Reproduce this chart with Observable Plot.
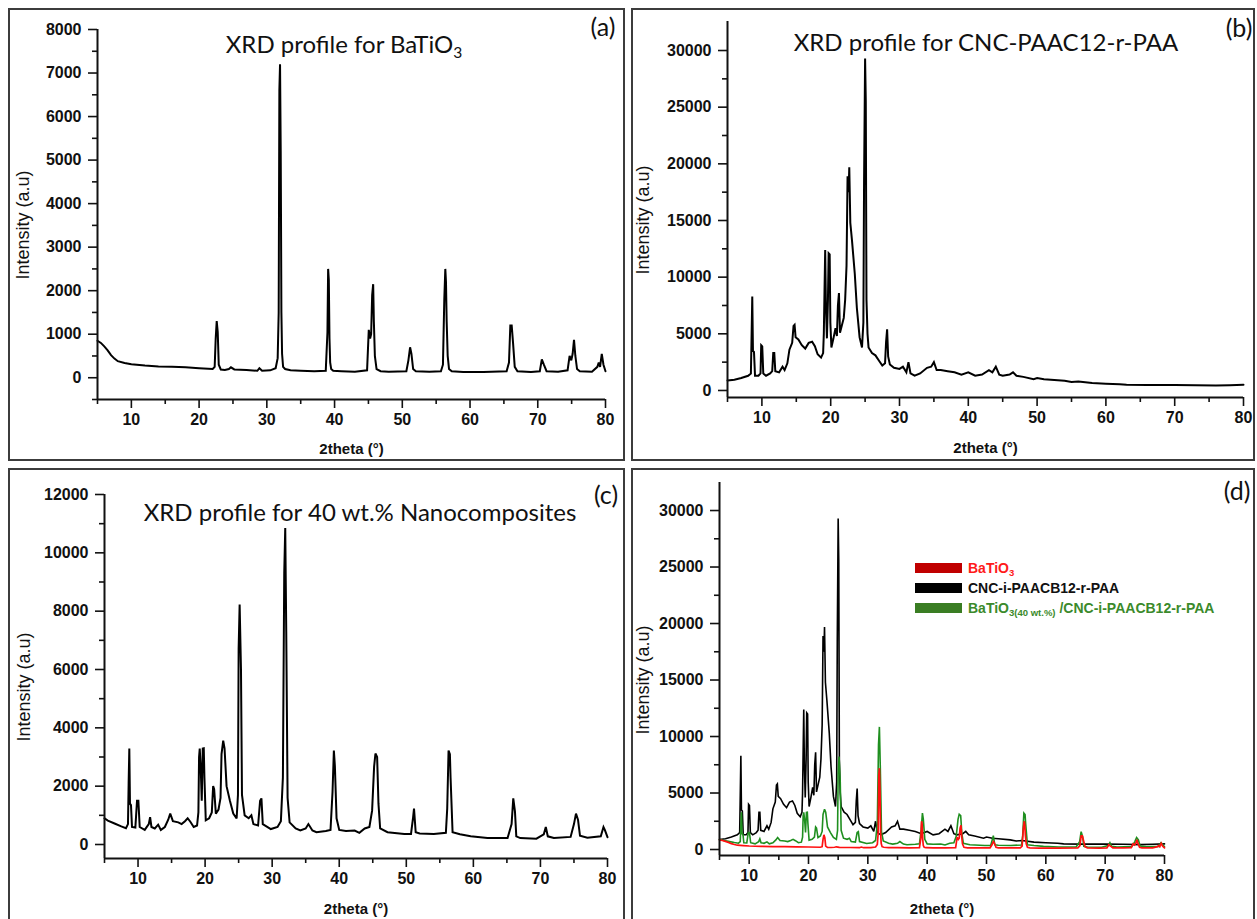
<!DOCTYPE html>
<html><head><meta charset="utf-8">
<script src="https://cdn.jsdelivr.net/npm/d3@7"></script>
<script src="https://cdn.jsdelivr.net/npm/@observablehq/plot@0.6"></script>
<style>
body{margin:0;background:#fff;}
#page{position:relative;width:1257px;height:919px;overflow:hidden;background:#fff;}
.box{position:absolute;border:2px solid #3c3c3c;box-sizing:border-box;}
.plot{position:absolute;}
.plot svg{overflow:visible;}
.title{position:absolute;font-family:Lato,"Open Sans",sans-serif;font-size:24px;color:#111;white-space:nowrap;transform:translate(-50%,-50%);line-height:1;}
.title sub{font-size:0.65em;vertical-align:-0.3em;line-height:0;}
.tag{position:absolute;font-family:Lato,"Open Sans",sans-serif;font-size:25px;color:#111;transform:translate(-50%,-50%);line-height:1;}
.ylab{position:absolute;font-family:"Liberation Sans",Arial,sans-serif;font-size:18px;color:#111;white-space:nowrap;line-height:1;transform:translate(-50%,-50%) rotate(-90deg);}
.legend{position:absolute;left:915px;top:558px;font-family:"Liberation Sans",Arial,sans-serif;font-weight:bold;font-size:14px;}
.legend .row{display:flex;align-items:center;height:20px;white-space:nowrap;}
.legend .sw{width:47px;height:10px;margin-right:6px;flex:none;}
.legend sub{font-size:0.68em;vertical-align:-0.35em;line-height:0;}
</style>
</head><body>
<div id="page"></div>
<script>
// ---- data: [2theta, intensity] ----
const batio3 = [[5,850],[5.5,800],[6,720],[6.5,630],[7,520],[7.5,440],[8,380],[9,340],[10,310],[12,280],[14,260],[16,250],[18,240],[20,220],[22,200],[22.3,250],[22.45,900],[22.6,1300],[22.75,1050],[22.9,300],[23.2,190],[23.8,180],[24.4,200],[24.7,240],[25.2,190],[27,180],[28.6,160],[28.9,220],[29.3,160],[30.5,170],[31.3,220],[31.6,450],[31.75,1500],[31.85,6600],[31.95,7200],[32.05,5200],[32.15,1500],[32.25,550],[32.4,250],[32.7,200],[33.5,170],[35,160],[37,150],[38.7,160],[38.95,1050],[39.05,2500],[39.15,2250],[39.25,900],[39.35,350],[39.5,200],[39.8,160],[41,150],[43,140],[44.8,170],[45.05,1100],[45.25,900],[45.4,1000],[45.55,1900],[45.7,2150],[45.8,1300],[45.95,500],[46.2,200],[46.8,150],[48,140],[50.6,150],[50.9,400],[51.15,700],[51.35,550],[51.6,200],[52,150],[54,140],[55.7,150],[56.0,300],[56.2,1800],[56.35,2500],[56.45,2200],[56.55,1300],[56.7,500],[56.9,200],[57.3,150],[59,130],[62,130],[65.4,150],[65.75,350],[65.95,1200],[66.15,1200],[66.35,800],[66.6,250],[67,150],[69,130],[70.3,150],[70.6,420],[70.9,300],[71.3,150],[73,140],[74.4,170],[74.7,500],[74.95,400],[75.15,550],[75.35,870],[75.55,500],[75.8,200],[76.2,150],[78,140],[78.8,250],[79.0,350],[79.2,250],[79.45,550],[79.7,300],[80,150]];

const cnc = [[5,880],[6,950],[7,1100],[8,1300],[8.4,1500],[8.5,4800],[8.6,8300],[8.7,3500],[8.85,3400],[9.0,1300],[9.5,1300],[9.8,1500],[9.9,4000],[10.05,3900],[10.2,1500],[10.6,1300],[11.2,1500],[11.5,1700],[11.65,3300],[11.8,3300],[11.95,1700],[12.5,1600],[13,2100],[13.3,1800],[13.7,2400],[14.0,3600],[14.4,4200],[14.6,5700],[14.75,5800],[14.9,4700],[15.3,4500],[15.8,4000],[16.3,3700],[16.8,4200],[17.3,4300],[17.7,3900],[18.1,3200],[18.6,2900],[18.9,3300],[19.0,5000],[19.1,8800],[19.2,12400],[19.3,7600],[19.45,4600],[19.6,8000],[19.7,12100],[19.85,12000],[19.95,6000],[20.1,3800],[20.4,4600],[20.7,5500],[20.9,4800],[21.05,7500],[21.2,8600],[21.35,5100],[21.6,5700],[21.9,6400],[22.1,8000],[22.3,11000],[22.45,18900],[22.6,17500],[22.7,19700],[22.85,14800],[23.1,13200],[23.5,10300],[23.8,7300],[24.2,4700],[24.55,3800],[24.75,6000],[24.85,18500],[25.0,29300],[25.1,25500],[25.2,8000],[25.35,5000],[25.5,3800],[26.0,3300],[26.5,3100],[27.0,2650],[27.5,2200],[27.9,2400],[28.05,4300],[28.2,5400],[28.35,3000],[28.6,2300],[29.2,2000],[30.0,1900],[30.5,2100],[31.0,1600],[31.3,2500],[31.6,1500],[32.2,1300],[33,1500],[34,2000],[34.6,2100],[35.0,2500],[35.4,1800],[36,1800],[37,1700],[38,1600],[39,1400],[40,1600],[41,1300],[42,1400],[43,1800],[43.5,1600],[44,2100],[44.5,1400],[45,1300],[46,1400],[46.5,1600],[47,1300],[48,1200],[49.5,1000],[50,1100],[51,1000],[52,950],[54,850],[55,750],[56,800],[58,650],[60,600],[62,550],[63,500],[66,480],[70,480],[73,460],[76,430],[78,460],[80,500]];

const composite = [[5,900],[5.5,820],[6.5,720],[7.5,620],[8.2,560],[8.5,700],[8.6,2100],[8.7,3290],[8.8,1400],[8.95,1350],[9.1,600],[9.6,580],[9.85,1500],[10.05,1500],[10.25,600],[11,500],[11.6,700],[11.8,940],[12.0,600],[12.5,550],[13.0,680],[13.4,500],[14.0,600],[14.5,850],[14.8,1060],[15.2,800],[16.0,760],[16.5,700],[17.0,800],[17.4,900],[17.8,780],[18.3,600],[18.8,650],[19.0,1100],[19.1,3000],[19.2,3290],[19.35,2600],[19.5,1500],[19.65,3290],[19.8,3300],[19.9,2300],[20.1,830],[20.6,900],[21.0,1100],[21.2,2000],[21.35,1900],[21.6,1060],[22.0,1200],[22.3,1600],[22.45,3100],[22.7,3560],[22.9,3300],[23.2,2000],[23.7,1500],[24.2,1060],[24.7,890],[24.9,1700],[25.0,6700],[25.15,8230],[25.35,6000],[25.5,1700],[25.9,1000],[26.5,900],[26.9,1000],[27.2,700],[27.9,650],[28.2,1500],[28.4,1580],[28.6,700],[29.8,530],[30.8,600],[31.3,800],[31.6,2300],[31.8,9300],[31.95,10850],[32.1,7300],[32.3,1600],[32.6,760],[33.5,550],[34.2,480],[35.0,550],[35.4,700],[36.0,480],[36.6,420],[38.0,460],[38.7,500],[39.0,1800],[39.2,3220],[39.35,2700],[39.6,900],[40,500],[41,460],[42.3,480],[43,400],[43.8,550],[44.5,600],[44.9,1160],[45.2,2670],[45.4,3120],[45.65,3000],[45.85,1400],[46.1,550],[47.2,420],[49.7,360],[50.7,360],[51.0,900],[51.15,1230],[51.4,420],[52,380],[54.1,360],[55.9,400],[56.1,1230],[56.3,3220],[56.5,3100],[56.6,2300],[56.9,420],[58,350],[59.6,280],[62.1,220],[65.1,220],[65.7,700],[65.95,1580],[66.2,1140],[66.4,280],[67,220],[69.4,200],[70.5,350],[70.8,600],[71.1,280],[72,220],[74.5,260],[75.0,700],[75.3,1060],[75.6,850],[75.9,300],[77,230],[79,280],[79.4,600],[79.6,500],[80,250]];

const xMajorTicks = [10,20,30,40,50,60,70,80];
const xMinorTicks = [5,15,25,35,45,55,65,75];
const yTicksA = [0,1000,2000,3000,4000,5000,6000,7000,8000];
const yMinorA = [-500,500,1500,2500,3500,4500,5500,6500,7500];
const yTicksB = [0,5000,10000,15000,20000,25000,30000];
const yMinorB = [2500,7500,12500,17500,22500,27500];
const yTicksC = [0,2000,4000,6000,8000,10000,12000];
const yMinorC = [1000,3000,5000,7000,9000,11000];

const titles = {
  a: 'XRD profile for BaTiO<sub>3</sub>',
  b: 'XRD profile for CNC-PAAC12-r-PAA',
  c: 'XRD profile for 40 wt.% Nanocomposites'
};
const yLabel = 'Intensity (a.u)';
const xLabel = '2theta (°)';
const legendItems = [
  {label: 'BaTiO<sub>3</sub>', swatch: '#c00000', text: '#ff1a1a'},
  {label: 'CNC-i-PAACB12-r-PAA', swatch: '#000000', text: '#111111'},
  {label: 'BaTiO<sub>3(40 wt.%)</sub> /CNC-i-PAACB12-r-PAA', swatch: '#3a7d23', text: '#3b8a2b'}
];

const page = document.getElementById('page');
const FONT = '"Liberation Sans", Arial, sans-serif';

function panel(cfg) {
  const box = document.createElement('div');
  box.className = 'box';
  Object.assign(box.style, {left: cfg.left + 'px', top: cfg.top + 'px', width: cfg.W + 'px', height: cfg.H + 'px'});
  page.appendChild(box);
  const holder = document.createElement('div');
  holder.className = 'plot';
  Object.assign(holder.style, {left: cfg.left + 'px', top: cfg.top + 'px'});
  const fmt = d => String(d);
  const lines = cfg.series.map(s => Plot.line(s.data, {x: d => d[0], y: d => d[1], stroke: s.color, strokeWidth: s.width || 2, strokeLinejoin: 'miter', strokeMiterlimit: 3}));
  const svg = Plot.plot({
    width: cfg.W, height: cfg.H,
    marginLeft: cfg.mL, marginRight: cfg.mR, marginTop: cfg.mT, marginBottom: cfg.mB,
    style: {background: 'transparent', fontFamily: FONT, fontSize: '16px', fontWeight: 'bold', color: '#111'},
    x: {domain: [5, 80]},
    y: {domain: cfg.yDomain},
    marks: [
      ...lines,
      Plot.ruleX([5], {strokeWidth: 2, stroke: '#111'}),
      Plot.ruleY([cfg.yDomain[0]], {strokeWidth: 2, stroke: '#111'}),
      Plot.axisX({ticks: xMajorTicks, tickSize: 9, tickPadding: 5, strokeWidth: 1.6, fontSize: 16, fontWeight: 'bold', tickFormat: fmt, label: null}),
      Plot.axisX({ticks: xMinorTicks, tickSize: 5, strokeWidth: 1.6, tickFormat: () => '', label: null}),
      Plot.axisY({ticks: cfg.yMajor, tickSize: 9, tickPadding: 7, strokeWidth: 1.6, fontSize: 16, fontWeight: 'bold', tickFormat: fmt, label: null}),
      Plot.axisY({ticks: cfg.yMinor, tickSize: 5, strokeWidth: 1.6, tickFormat: () => '', label: null}),
      Plot.text([xLabel], {frameAnchor: 'bottom', textAnchor: 'middle', lineAnchor: 'middle', dy: cfg.xly, fontSize: 15, fontWeight: 'bold', fill: '#111'})
    ]
  });
  holder.appendChild(svg);
  page.appendChild(holder);
  addText('ylab', yLabel, cfg.ylabX, cfg.ylabY);
}

function addText(cls, html, x, y) {
  const d = document.createElement('div');
  d.className = cls; d.innerHTML = html;
  d.style.left = x + 'px'; d.style.top = y + 'px';
  page.appendChild(d);
}

panel({left: 8, top: 8, W: 617, H: 453, mL: 89, mR: 20, mT: 21, mB: 62,
  yDomain: [-500, 8000], yMajor: yTicksA, yMinor: yMinorA, ylabX: 23, ylabY: 225, xly: 50,
  series: [{data: batio3, color: '#000'}]});
panel({left: 631, top: 8, W: 624, H: 453, mL: 96, mR: 12, mT: 13, mB: 64,
  yDomain: [-620, 32560], yMajor: yTicksB, yMinor: yMinorB, ylabX: 643, ylabY: 220, xly: 51,
  series: [{data: cnc, color: '#000'}]});
panel({left: 8, top: 468, W: 617, H: 460, mL: 96, mR: 18, mT: 26, mB: 70,
  yDomain: [-480, 12000], yMajor: yTicksC, yMinor: yMinorC, ylabX: 24, ylabY: 687, xly: 51,
  series: [{data: composite, color: '#000'}]});
panel({left: 631, top: 468, W: 624, H: 460, mL: 88, mR: 91, mT: 14, mB: 73,
  yDomain: [-530, 32480], yMajor: yTicksB, yMinor: yMinorB, ylabX: 643, ylabY: 680, xly: 54,
  series: [{data: cnc, color: '#000', width: 1.6}, {data: composite, color: '#1f8f1f', width: 1.6}, {data: batio3, color: '#ff1010', width: 1.7}]});

addText('title', titles.a, 344, 44);
addText('title', titles.b, 986, 42);
addText('title', titles.c, 360, 512);
addText('tag', '(a)', 603, 26);
addText('tag', '(b)', 1239, 27);
addText('tag', '(c)', 606, 494);
addText('tag', '(d)', 1237, 490);

const leg = document.createElement('div');
leg.className = 'legend';
for (const it of legendItems) {
  const r = document.createElement('div'); r.className = 'row';
  r.innerHTML = `<span class="sw" style="background:${it.swatch}"></span><span style="color:${it.text}">${it.label}</span>`;
  leg.appendChild(r);
}
page.appendChild(leg);
</script>
</body></html>
